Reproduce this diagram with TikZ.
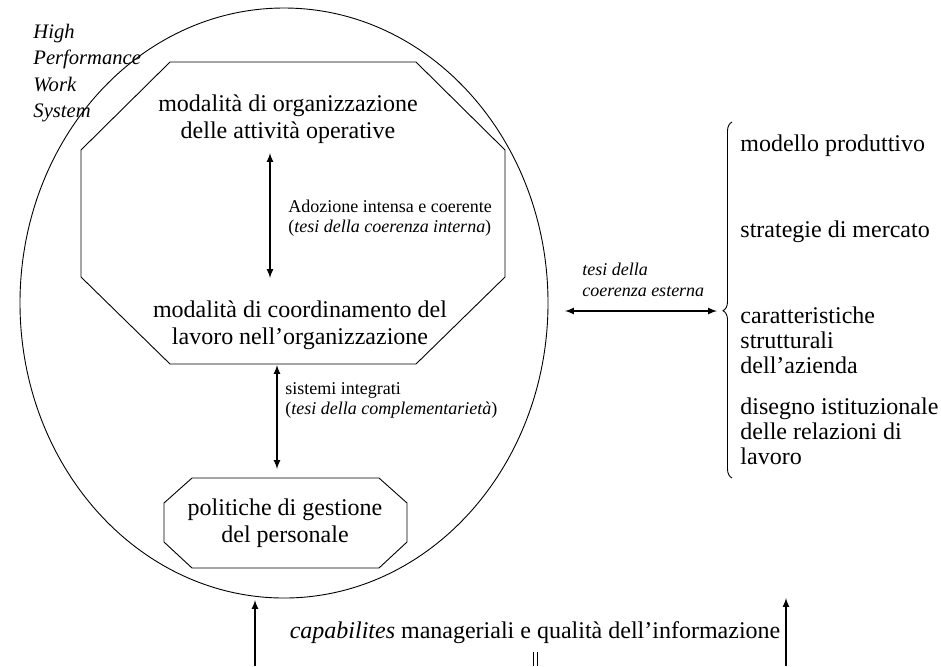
\documentclass[tikz,border=0pt]{standalone}
\usepackage{fontspec}
\setmainfont{Liberation Serif}
\usetikzlibrary{decorations.pathreplacing}

\tikzset{
  box/.style={align=center, inner sep=0pt, font=\fontsize{12}{13.6}\selectfont},
  note/.style={align=left, anchor=west, inner sep=0pt, font=\fontsize{9}{10}\selectfont},
  item/.style={align=left, anchor=west, inner sep=0pt, font=\fontsize{12}{12.6}\selectfont},
  link/.style={-latex, line width=0.55pt}
}

\begin{document}
\begin{tikzpicture}[x=0.5pt,y=-0.5pt,line width=0.45pt]
  \useasboundingbox (0,0) rectangle (941,666);
  % sistema e octagoni
  \draw (284,303) ellipse (264 and 295);
  \draw (170,62) -- (416,62) -- (505,150) -- (505,277) -- (416,364) -- (170,364) -- (81,277) -- (81,150) -- cycle;
  \draw (192,478) -- (379,478) -- (407,503) -- (407,542) -- (379,568) -- (192,568) -- (164,542) -- (164,503) -- cycle;

  \node[item, font=\fontsize{10.3}{13.2}\selectfont\itshape] (hpws) at (33,73) {High\\Performance\\Work\\System};
  \node[box] (org) at (288,119) {modalità di organizzazione\\delle attività operative};
  \node[box] (coord) at (300,325) {modalità di coordinamento del\\lavoro nell’organizzazione};
  \node[box] (pers) at (285,523) {politiche di gestione\\del personale};
  \node[note] (interna) at (288,218) {Adozione intensa e coerente\\(\textit{tesi della coerenza interna})};
  \node[note] (compl) at (285,400) {sistemi integrati\\(\textit{tesi della complementarietà})};
  \node[note, font=\fontsize{9}{10.5}\selectfont\itshape] (esterna) at (582,280) {tesi della\\coerenza esterna};

  % fattori esterni
  \node[item] (modello) at (740,146) {modello produttivo};
  \node[item] (mercato) at (740,232) {strategie di mercato};
  \node[item] (azienda) at (740,340) {caratteristiche\\strutturali\\dell’azienda};
  \node[item] (disegno) at (740,431) {disegno istituzionale\\delle relazioni di\\lavoro};
  \draw[decorate, decoration={brace, amplitude=4.5pt, aspect=0.47}] (732,478) -- (732,122);

  \node[box] (capab) at (535,633) {\textit{capabilites} manageriali e qualità dell’informazione};

  % frecce
  \coordinate (a1t) at (270,153);
  \coordinate (a1b) at (270,278);
  \coordinate (a2t) at (277,365);
  \coordinate (a2b) at (277,469);
  \coordinate (a3l) at (565,311);
  \coordinate (a3r) at (717,311);
  \coordinate (b1) at (255,666);
  \coordinate (b1t) at (255,600);
  \coordinate (b2) at (786,666);
  \coordinate (b2t) at (786,598);
  \draw[link, latex-latex] (a1t) -- (a1b);
  \draw[link, latex-latex] (a2t) -- (a2b);
  \draw[link, latex-latex] (a3l) -- (a3r);
  \draw[link] (b1) -- (b1t);
  \draw[link] (b2) -- (b2t);
  \draw (533,652) -- (533,666);
  \draw (537,652) -- (537,666);
\end{tikzpicture}
\end{document}
